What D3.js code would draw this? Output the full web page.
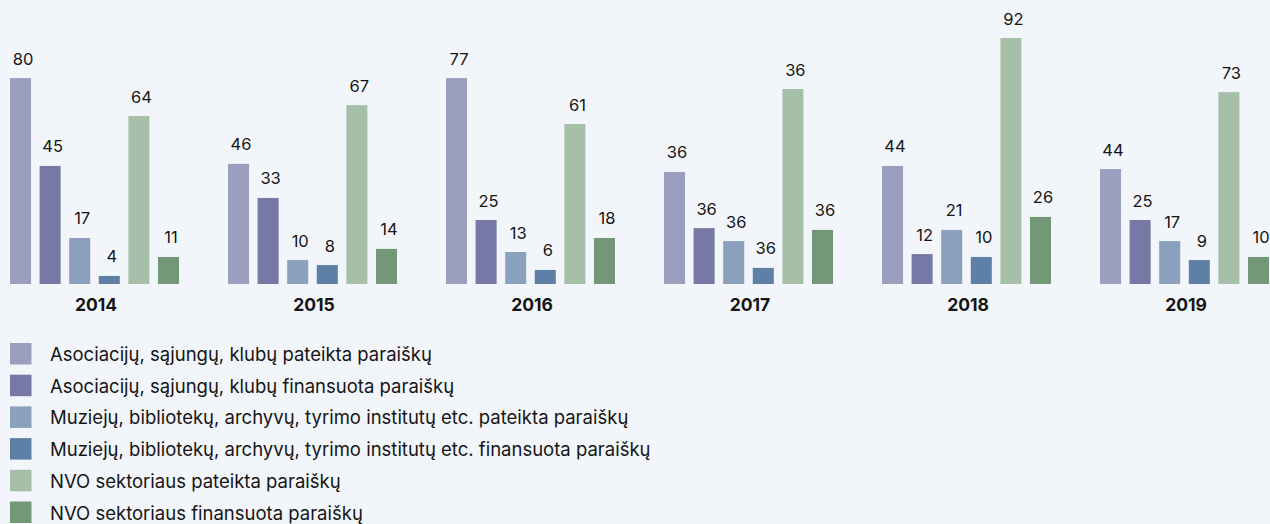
<!DOCTYPE html>
<html>
<head>
<meta charset="utf-8">
<script src="https://cdn.jsdelivr.net/npm/d3@7"></script>
<style>
  html, body { margin: 0; padding: 0; background: #f2f5fa; }
  svg { display: block; }
  text { font-family: "Inter", "Noto Sans", sans-serif; fill: #151515; }
</style>
</head>
<body>
<svg id="chart" width="1270" height="524"></svg>
<script>
// ---- data ----
const years = ["2014", "2015", "2016", "2017", "2018", "2019"];
const seriesNames = [
  "Asociacijų, sąjungų, klubų pateikta paraiškų",
  "Asociacijų, sąjungų, klubų finansuota paraiškų",
  "Muziejų, bibliotekų, archyvų, tyrimo institutų etc. pateikta paraiškų",
  "Muziejų, bibliotekų, archyvų, tyrimo institutų etc. finansuota paraiškų",
  "NVO sektoriaus pateikta paraiškų",
  "NVO sektoriaus finansuota paraiškų"
];
// bar heights as drawn (per year, one value per series)
const barValues2014 = [79.2, 45.4, 17.7, 3.1, 64.6, 10.4];
const barValues2015 = [46.2, 33.1, 9.2, 7.3, 68.8, 13.5];
const barValues2016 = [79.2, 24.6, 12.3, 5.4, 61.5, 17.7];
const barValues2017 = [43.1, 21.5, 16.5, 6.2, 75.0, 20.8];
const barValues2018 = [45.4, 11.5, 20.8, 10.4, 94.6, 25.8];
const barValues2019 = [44.2, 24.6, 16.5, 9.2, 73.8, 10.4];
// value labels as printed on the chart
const labels2014 = ["80", "45", "17", "4", "64", "11"];
const labels2015 = ["46", "33", "10", "8", "67", "14"];
const labels2016 = ["77", "25", "13", "6", "61", "18"];
const labels2017 = ["36", "36", "36", "36", "36", "36"];
const labels2018 = ["44", "12", "21", "10", "92", "26"];
const labels2019 = ["44", "25", "17", "9", "73", "10"];
const colors = ["#9b9fbf", "#7679a5", "#8aa0bd", "#5f80a6", "#a5bfa8", "#739878"];

const barValues = [barValues2014, barValues2015, barValues2016, barValues2017, barValues2018, barValues2019];
const labelValues = [labels2014, labels2015, labels2016, labels2017, labels2018, labels2019];

// ---- layout ----
const svg = d3.select("#chart");
const baseline = 284;

const x0 = d3.scaleBand().domain(years).range([10, 1269]).paddingInner(0.2248).paddingOuter(0);
const x1 = d3.scaleBand().domain(d3.range(seriesNames.length)).range([0, x0.bandwidth()]).paddingInner(0.29).paddingOuter(0);
const y = d3.scaleLinear().domain([0, 100]).range([baseline, baseline - 260]);
const color = d3.scaleOrdinal().domain(d3.range(seriesNames.length)).range(colors);

const groups = svg.selectAll("g.year")
  .data(years.map((yr, i) => ({ yr, vals: barValues[i], labs: labelValues[i] })))
  .join("g")
  .attr("class", "year")
  .attr("transform", d => `translate(${x0(d.yr)},0)`);

groups.selectAll("rect")
  .data(d => d.vals.map((v, k) => ({ v, k })))
  .join("rect")
  .attr("x", d => x1(d.k))
  .attr("width", x1.bandwidth())
  .attr("y", d => y(d.v))
  .attr("height", d => y(0) - y(d.v))
  .attr("fill", d => color(d.k));

groups.selectAll("text.val")
  .data(d => d.vals.map((v, k) => ({ v, k, lab: d.labs[k] })))
  .join("text")
  .attr("class", "val")
  .attr("x", d => x1(d.k) + x1.bandwidth() / 2 + 2.5)
  .attr("y", d => y(d.v) - 13.5)
  .attr("text-anchor", "middle")
  .style("font-size", "16.5px")
  .text(d => d.lab);

// year axis labels
const xAxis = d3.axisBottom(x0).tickSize(0).tickPadding(0);
const axisG = svg.append("g").attr("transform", `translate(0,${baseline})`).call(xAxis);
axisG.select(".domain").remove();
axisG.selectAll("text")
  .attr("dy", null)
  .attr("y", 26.5)
  .attr("dx", 1.5)
  .style("font-family", "Inter, sans-serif")
  .style("font-size", "17.5px")
  .style("font-weight", "700")
  .style("fill", "#151515");

// legend
const legend = svg.append("g").selectAll("g")
  .data(seriesNames)
  .join("g")
  .attr("transform", (d, i) => `translate(10,${343 + i * 31.7})`);
legend.append("rect")
  .attr("width", 21.5).attr("height", 21.5)
  .attr("fill", (d, i) => color(i));
const legText = legend.append("text")
  .attr("x", 40).attr("y", 18)
  .style("font-size", "17px")
  .text(d => d);
// fit legend font so the first row spans the same width as in the reference
const w0 = legText.node().getComputedTextLength();
legText.style("font-size", (17 * 382 / w0).toFixed(2) + "px");
</script>
</body>
</html>
